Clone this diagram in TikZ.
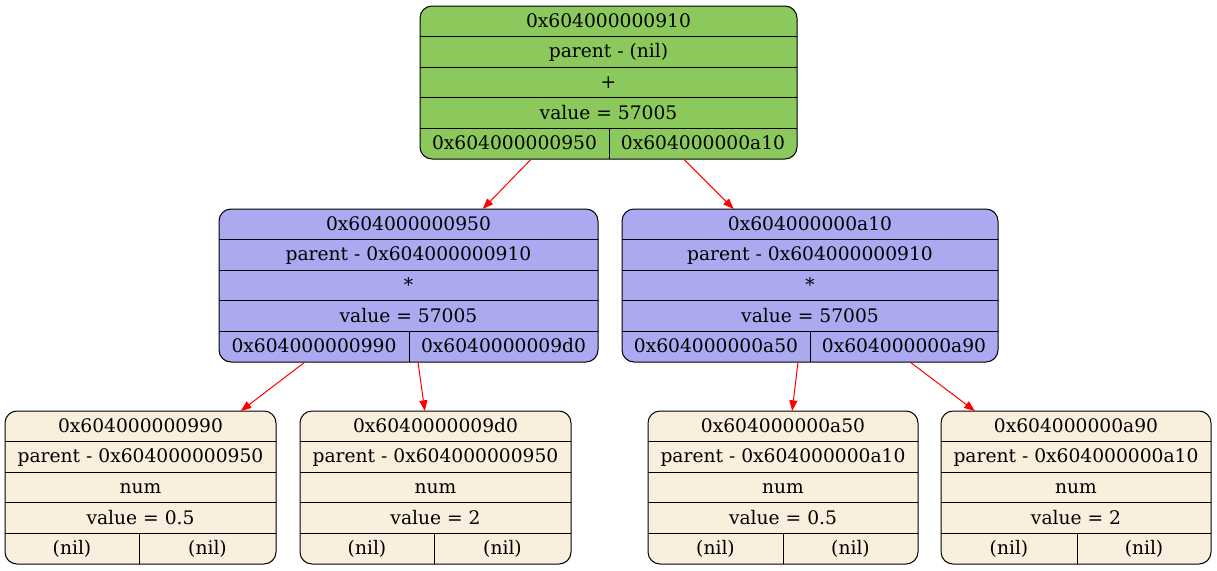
\documentclass[tikz,border=0pt]{standalone}
\usepackage{fontspec}
\setmainfont{DejaVu Serif}
\usetikzlibrary{arrows.meta,fit}

\definecolor{opgreen}{HTML}{8BC95C}
\definecolor{oppurple}{HTML}{ABA9F0}
\definecolor{numlinen}{HTML}{FAEEDD}

\tikzset{
  rec/.style={draw=black, line width=0.75pt, rounded corners=9pt, inner sep=0pt, outer sep=0pt},
  sep/.style={draw=black, line width=0.75pt},
  fld/.style={anchor=base, inner sep=0pt, font=\fontsize{14}{16}\selectfont},
  link/.style={draw=red, line width=0.75pt, -{Triangle[length=8pt,width=6pt]}}
}

% record box: name, left x, right x, top y, divider x, fill colour
\newcommand\recbox[6]{%
  \node[rec, fill=#6, fit={(#2,#4) (#3,#4+153)}] (#1) {};
  \foreach \k in {1,...,4} \draw[sep] (#2,#4+30.6*\k) -- (#3,#4+30.6*\k);
  \draw[sep] (#5,#4+122.4) -- (#5,#4+153);
  \coordinate (#1-c) at ({(#2+#3)/2},#4);
  \coordinate (#1-l) at ({(#2+#5)/2},#4);
  \coordinate (#1-r) at ({(#5+#3)/2},#4);
}

% record fields: name, address, parent, operator, value, left child, right child
\newcommand\recrows[7]{%
  \path (#1-c) ++(0,21.2)  node[fld] (#1-addr) {#2};
  \path (#1-c) ++(0,51.8)  node[fld] (#1-par)  {#3};
  \path (#1-c) ++(0,82.4)  node[fld] (#1-op)   {#4};
  \path (#1-c) ++(0,113.0) node[fld] (#1-val)  {#5};
  \path (#1-l) ++(0,143.6) node[fld] (#1-lt)   {#6};
  \path (#1-r) ++(0,143.6) node[fld] (#1-rt)   {#7};
}

\begin{document}
\begin{tikzpicture}[x=0.75pt, y=-0.75pt]
\useasboundingbox (0,0) rectangle (1217,571);

% root
\recbox{root}{420}{797}{6}{609}{opgreen}
\recrows{root}{0x604000000910}{parent - (nil)}{+}{value = 57005}{0x604000000950}{0x604000000a10}

% second level
\recbox{midL}{219}{598}{209}{409}{oppurple}
\recrows{midL}{0x604000000950}{parent - 0x604000000910}{*}{value = 57005}{0x604000000990}{0x6040000009d0}

\recbox{midR}{622}{998}{209}{810}{oppurple}
\recrows{midR}{0x604000000a10}{parent - 0x604000000910}{*}{value = 57005}{0x604000000a50}{0x604000000a90}

% leaves
\recbox{leafA}{5}{276}{411}{139}{numlinen}
\recrows{leafA}{0x604000000990}{parent - 0x604000000950}{num}{value = 0.5}{(nil)}{(nil)}

\recbox{leafB}{300}{571}{411}{434}{numlinen}
\recrows{leafB}{0x6040000009d0}{parent - 0x604000000950}{num}{value = 2}{(nil)}{(nil)}

\recbox{leafC}{648}{918}{411}{783}{numlinen}
\recrows{leafC}{0x604000000a50}{parent - 0x604000000a10}{num}{value = 0.5}{(nil)}{(nil)}

\recbox{leafD}{941}{1211}{411}{1077}{numlinen}
\recrows{leafD}{0x604000000a90}{parent - 0x604000000a10}{num}{value = 2}{(nil)}{(nil)}

% edge start points on the child ports
\coordinate (root-pl) at (531,159.3);
\coordinate (root-pr) at (684,159.3);
\coordinate (midL-pl) at (305,362);
\coordinate (midL-pr) at (418,362);
\coordinate (midR-pl) at (798,362);
\coordinate (midR-pr) at (910,362);

% links
\draw[link] (root-pl) -- (midL);
\draw[link] (root-pr) -- (midR);
\draw[link] (midL-pl) -- (leafA);
\draw[link] (midL-pr) -- (leafB);
\draw[link] (midR-pl) -- (leafC);
\draw[link] (midR-pr) -- (leafD);
\end{tikzpicture}
\end{document}
